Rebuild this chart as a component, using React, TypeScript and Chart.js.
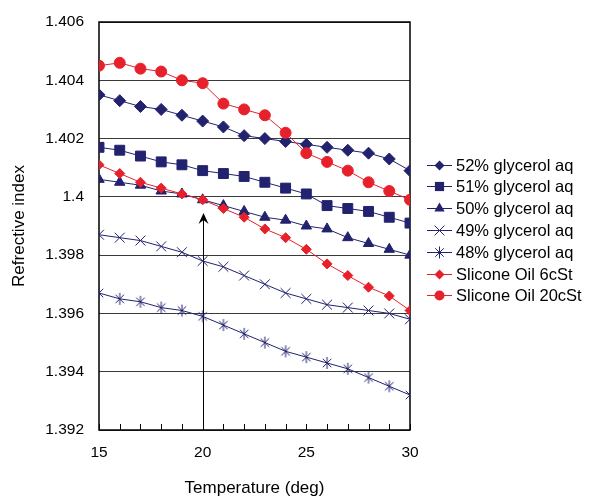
import React, { useEffect, useRef } from 'react';
import { Chart, registerables } from 'chart.js';

Chart.register(...registerables);

const temperatures = [15, 16, 17, 18, 19, 20, 21, 22, 23, 24, 25, 26, 27, 28, 29, 30];
const glycerol52 = [1.4035, 1.4033, 1.4031, 1.403, 1.4028, 1.4026, 1.4024, 1.4021, 1.402, 1.4019, 1.4018, 1.4017, 1.4016, 1.4015, 1.4013, 1.4009];
const glycerol51 = [1.4017, 1.4016, 1.4014, 1.4012, 1.4011, 1.4009, 1.4008, 1.4007, 1.4005, 1.4003, 1.4001, 1.3997, 1.3996, 1.3995, 1.3993, 1.3991];
const glycerol50 = [1.4006, 1.4005, 1.4004, 1.4002, 1.4001, 1.3999, 1.3997, 1.3995, 1.3993, 1.3992, 1.399, 1.3989, 1.3986, 1.3984, 1.3982, 1.398];
const glycerol49 = [1.3987, 1.3986, 1.3985, 1.3983, 1.3981, 1.3978, 1.3976, 1.3973, 1.397, 1.3967, 1.3965, 1.3963, 1.3962, 1.3961, 1.396, 1.3958];
const glycerol48 = [1.3967, 1.3965, 1.3964, 1.3962, 1.3961, 1.3959, 1.3956, 1.3953, 1.395, 1.3947, 1.3945, 1.3943, 1.3941, 1.3938, 1.3935, 1.3932];
const silicone6 = [1.4011, 1.4008, 1.4005, 1.4003, 1.4001, 1.3999, 1.3996, 1.3993, 1.3989, 1.3986, 1.3982, 1.3977, 1.3973, 1.3969, 1.3966, 1.3961];
const silicone20 = [1.4045, 1.4046, 1.4044, 1.4043, 1.404, 1.4039, 1.4032, 1.403, 1.4028, 1.4022, 1.4015, 1.4012, 1.4009, 1.4005, 1.4002, 1.3999];

const seriesNames = [
  '52% glycerol aq',
  '51% glycerol aq',
  '50% glycerol aq',
  '49% glycerol aq',
  '48% glycerol aq',
  'Slicone Oil 6cSt',
  'Slicone Oil 20cSt',
];

const yTickMin = 1.392;
const yTickMax = 1.406;
const yTickStep = 0.002;
const xTickMin = 15;
const xTickMax = 30;
const xLabelEvery = 5;

const arrowX = 20;
const arrowFrom = 1.392;
const arrowTo = 1.39945;

const NAVY = '#22226f';
const RED = '#e6212b';
const FONT = "'Liberation Sans', Arial, sans-serif";

type MarkerKind = 'rectRot' | 'rect' | 'triangle' | 'crossRot' | 'xstar' | 'circle';

function drawMarker(ctx: CanvasRenderingContext2D, kind: MarkerKind, cx: number, cy: number, r: number, color: string) {
  ctx.save();
  ctx.fillStyle = color;
  ctx.strokeStyle = color;
  ctx.lineWidth = 1;
  ctx.beginPath();
  if (kind === 'rectRot') {
    ctx.moveTo(cx, cy - r);
    ctx.lineTo(cx + r, cy);
    ctx.lineTo(cx, cy + r);
    ctx.lineTo(cx - r, cy);
    ctx.closePath();
    ctx.fill();
  } else if (kind === 'rect') {
    const s = r * Math.SQRT1_2;
    ctx.rect(cx - s, cy - s, 2 * s, 2 * s);
    ctx.fill();
  } else if (kind === 'triangle') {
    ctx.moveTo(cx, cy - r);
    ctx.lineTo(cx + 0.866 * r, cy + 0.5 * r);
    ctx.lineTo(cx - 0.866 * r, cy + 0.5 * r);
    ctx.closePath();
    ctx.fill();
  } else if (kind === 'circle') {
    ctx.arc(cx, cy, r, 0, Math.PI * 2);
    ctx.fill();
  } else {
    const d = r * Math.SQRT1_2;
    ctx.moveTo(cx - d, cy - d);
    ctx.lineTo(cx + d, cy + d);
    ctx.moveTo(cx - d, cy + d);
    ctx.lineTo(cx + d, cy - d);
    if (kind === 'xstar') {
      ctx.moveTo(cx, cy - r);
      ctx.lineTo(cx, cy + r);
    }
    ctx.stroke();
  }
  ctx.restore();
}

function makeStarPoint(color: string, r: number) {
  const size = Math.ceil(r * 2 + 2);
  const c = document.createElement('canvas');
  c.width = size;
  c.height = size;
  const ctx = c.getContext('2d')!;
  drawMarker(ctx, 'xstar', size / 2, size / 2, r, color);
  return c;
}

const decorPlugin = {
  id: 'decor',
  beforeDatasetsDraw(chart: any) {
    const { ctx, chartArea, scales } = chart;
    const x = scales.x;
    ctx.save();
    ctx.strokeStyle = '#000';
    ctx.lineWidth = 1;
    ctx.beginPath();
    x.ticks.forEach((t: any) => {
      const px = Math.round(x.getPixelForValue(t.value)) + 0.5;
      ctx.moveTo(px, chartArea.bottom);
      ctx.lineTo(px, chartArea.bottom - 6);
    });
    ctx.stroke();
    const ax = Math.round(x.getPixelForValue(arrowX)) + 0.5;
    const y0 = scales.y.getPixelForValue(arrowFrom);
    const y1 = scales.y.getPixelForValue(arrowTo);
    ctx.beginPath();
    ctx.moveTo(ax, y0);
    ctx.lineTo(ax, y1 + 6);
    ctx.stroke();
    ctx.fillStyle = '#000';
    ctx.beginPath();
    ctx.moveTo(ax, y1);
    ctx.lineTo(ax + 5, y1 + 11);
    ctx.lineTo(ax, y1 + 7);
    ctx.lineTo(ax - 5, y1 + 11);
    ctx.closePath();
    ctx.fill();
    ctx.strokeStyle = '#000';
    ctx.lineWidth = 1.5;
    ctx.strokeRect(chartArea.left, chartArea.top, chartArea.right - chartArea.left, chartArea.bottom - chartArea.top);
    ctx.restore();
  },
};

export default function App() {
  const ref = useRef<HTMLCanvasElement>(null);

  useEffect(() => {
    document.body.style.margin = '0';
    const toXY = (vals: number[]) => vals.map((v, i) => ({ x: temperatures[i], y: v }));
    const starPoint = makeStarPoint(NAVY, 6);

    const specs = [
      { data: glycerol52, color: NAVY, style: 'rectRot', r: 6, kind: 'rectRot' as MarkerKind, lr: 5, order: 2 },
      { data: glycerol51, color: NAVY, style: 'rect', r: 7, kind: 'rect' as MarkerKind, lr: 6.5, order: 2 },
      { data: glycerol50, color: NAVY, style: 'triangle', r: 6, kind: 'triangle' as MarkerKind, lr: 6, order: 2 },
      { data: glycerol49, color: NAVY, style: 'crossRot', r: 7, kind: 'crossRot' as MarkerKind, lr: 7, order: 2 },
      { data: glycerol48, color: NAVY, style: starPoint, r: 6, kind: 'xstar' as MarkerKind, lr: 6, order: 2 },
      { data: silicone6, color: RED, style: 'rectRot', r: 5, kind: 'rectRot' as MarkerKind, lr: 5, order: 1 },
      { data: silicone20, color: RED, style: 'circle', r: 5.5, kind: 'circle' as MarkerKind, lr: 5, order: 1 },
    ];

    const legendPlugin = {
      id: 'customLegend',
      afterDraw(chart: any) {
        const { ctx, chartArea } = chart;
        const rowH = 21.8;
        const n = chart.data.datasets.length;
        const midY = (chartArea.top + chartArea.bottom) / 2 + 4;
        const startY = midY - ((n - 1) * rowH) / 2;
        const lx = chartArea.right + 17;
        ctx.save();
        ctx.font = `16.5px ${FONT}`;
        ctx.fillStyle = '#000';
        ctx.textBaseline = 'middle';
        ctx.textAlign = 'left';
        chart.data.datasets.forEach((d: any, i: number) => {
          const y = Math.round(startY + i * rowH) + 0.5;
          const s = specs[i];
          ctx.strokeStyle = s.color;
          ctx.lineWidth = 1;
          ctx.beginPath();
          ctx.moveTo(lx, y);
          ctx.lineTo(lx + 25, y);
          ctx.stroke();
          drawMarker(ctx, s.kind, lx + 12.5, y, s.lr, s.color);
          ctx.fillStyle = '#000';
          ctx.fillText(d.label, lx + 29, y + 1);
        });
        ctx.restore();
      },
    };

    const datasets = specs.map((s, i) => ({
      label: seriesNames[i],
      data: toXY(s.data),
      borderColor: s.color,
      backgroundColor: s.color,
      borderWidth: 1,
      pointStyle: s.style as any,
      pointRadius: s.r,
      pointBorderWidth: 1,
      pointBorderColor: s.color,
      pointBackgroundColor: s.color,
      order: s.order,
      tension: 0,
    }));

    const chart = new Chart(ref.current!, {
      type: 'line',
      data: { datasets },
      plugins: [decorPlugin, legendPlugin],
      options: {
        animation: false,
        responsive: true,
        maintainAspectRatio: false,
        layout: { padding: { top: 22, right: 182, bottom: 0, left: 0 } },
        font: { family: FONT },
        plugins: {
          tooltip: { enabled: false },
          legend: { display: false },
        },
        scales: {
          x: {
            type: 'linear',
            min: xTickMin,
            max: xTickMax,
            border: { display: false },
            grid: { display: false, drawTicks: false },
            afterFit: (scale: any) => {
              scale.height = 69;
              scale.paddingLeft = 0;
              scale.paddingRight = 0;
            },
            ticks: {
              stepSize: 1,
              autoSkip: false,
              maxRotation: 0,
              padding: 13,
              color: '#000',
              font: { family: FONT, size: 15.5 },
              callback: (v: any) => (Number(v) % xLabelEvery === 0 ? String(v) : ''),
            },
            title: {
              display: true,
              text: 'Temperature (deg)',
              color: '#000',
              font: { family: FONT, size: 17 },
              padding: { top: 19, bottom: 0 },
            },
          },
          y: {
            min: yTickMin,
            max: yTickMax,
            border: { display: false },
            grid: { color: '#3a3a3a', lineWidth: 1, drawTicks: false },
            afterFit: (scale: any) => {
              scale.width = 99;
              scale.paddingTop = 0;
              scale.paddingBottom = 0;
            },
            ticks: {
              stepSize: yTickStep,
              padding: 15,
              color: '#000',
              font: { family: FONT, size: 15.5 },
              callback: (v: any) => String(Number(Number(v).toFixed(3))),
            },
            title: {
              display: true,
              text: 'Refrective index',
              color: '#000',
              font: { family: FONT, size: 17 },
              padding: { top: 9, bottom: 10 },
            },
          },
        },
      },
    });
    return () => chart.destroy();
  }, []);

  return (
    <div style={{ width: 592, height: 499, position: 'relative' }}>
      <canvas ref={ref} />
    </div>
  );
}
